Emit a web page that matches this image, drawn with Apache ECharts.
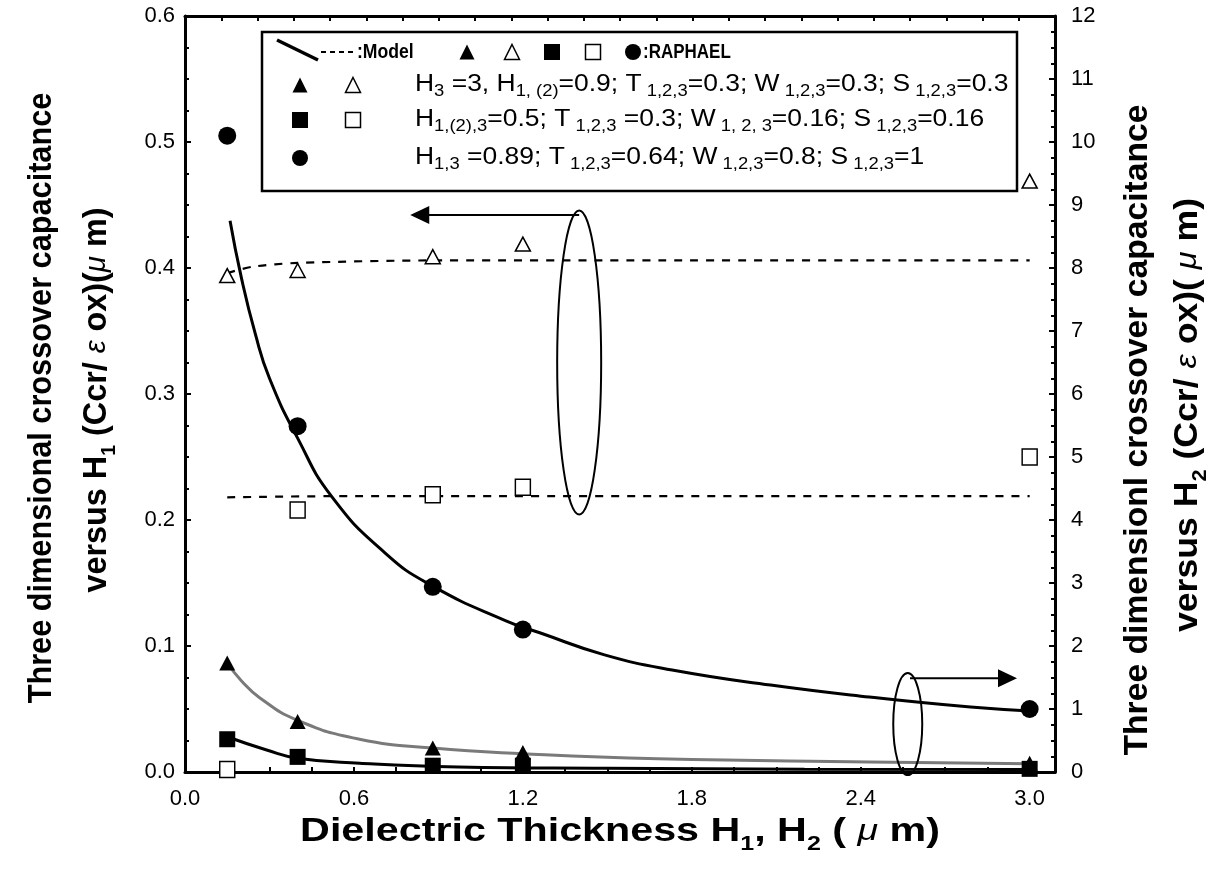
<!DOCTYPE html>
<html>
<head>
<meta charset="utf-8">
<script src="https://cdn.jsdelivr.net/npm/echarts@6/dist/echarts.min.js"></script>
<style>
html, body { margin: 0; padding: 0; background: #fff; }
#chart { width: 1215px; height: 886px; }
</style>
</head>
<body>
<div id="chart"></div>
<script>
/* 数据 */
var xPoints = [0.15, 0.4, 0.88, 1.2, 3.0]; // H1, H2 (um)

// RAPHAEL 点 - 左轴 (H1)
var openTriangle = [0.394, 0.398, 0.409, 0.419, 0.469];
var openSquare = [0.002, 0.208, 0.220, 0.226, 0.250];
// RAPHAEL 点 - 右轴 (H2)
var filledCircle = [10.1, 5.49, 2.94, 2.26, 1.0];
var filledTriangle = [1.73, 0.80, 0.38, 0.31, 0.14];
var filledSquare = [0.52, 0.24, 0.10, 0.10, 0.05];

// Model 曲线 [x, y]
var modelOpenTriangle = [[0.15, 0.396], [0.24, 0.401], [0.4, 0.404], [0.9, 0.406], [1.7, 0.406], [3.0, 0.406]];
var modelOpenSquare = [[0.15, 0.218], [0.6, 0.219], [3.0, 0.219]];
var modelCircle = [[0.16, 8.75], [0.2, 7.85], [0.25, 6.95], [0.3, 6.25], [0.4, 5.3], [0.52, 4.38], [0.71, 3.48],
    [0.88, 2.95], [1.14, 2.4], [1.26, 2.21], [1.49, 1.86], [1.73, 1.62], [2.08, 1.38], [2.43, 1.19], [2.79, 1.03], [3.0, 0.97]];
var modelTriangle = [[0.15, 1.73], [0.2, 1.45], [0.265, 1.18], [0.4, 0.82], [0.62, 0.52], [0.88, 0.38], [1.2, 0.29],
    [1.68, 0.21], [2.43, 0.16], [3.0, 0.13]];
var modelSquare = [[0.15, 0.56], [0.29, 0.35], [0.4, 0.22], [0.62, 0.14], [0.97, 0.08], [1.5, 0.06], [2.2, 0.045], [3.0, 0.04]];

// 刻度标签
var xLabelValues = [0.0, 0.6, 1.2, 1.8, 2.4, 3.0];

var SANS = '"Liberation Sans", Arial, Helvetica, sans-serif';

function zip (xs, ys) {
    return xs.map(function (x, i) { return [x, ys[i]]; });
}

var myChart = echarts.init(document.getElementById('chart'), null, { renderer: 'canvas' });

var axisLineStyle = { color: '#000', width: 3 };

var option = {
    animation: false,
    backgroundColor: '#fff',
    grid: { left: 185, right: 160, top: 16, bottom: 114, containLabel: false },
    xAxis: [{
        type: 'value',
        position: 'bottom',
        min: 0,
        max: 3.09,
        interval: 0.15,
        axisLine: { show: true, lineStyle: axisLineStyle },
        axisTick: { show: true, inside: true, length: 5, lineStyle: { color: '#000', width: 2 } },
        splitLine: { show: false },
        axisLabel: {
            show: true,
            showMaxLabel: false,
            margin: 16,
            color: '#000',
            fontSize: 22,
            fontFamily: SANS,
            formatter: function (v) {
                for (var i = 0; i < xLabelValues.length; i++) {
                    if (Math.abs(v - xLabelValues[i]) < 1e-6) return xLabelValues[i].toFixed(1);
                }
                return '';
            }
        }
    }, {
        type: 'value',
        position: 'top',
        min: 0,
        max: 24,
        interval: 1,
        axisLine: { show: true, onZero: false, lineStyle: axisLineStyle },
        axisTick: { show: true, inside: true, length: 5, lineStyle: { color: '#000', width: 2 } },
        axisLabel: { show: false },
        splitLine: { show: false }
    }],
    yAxis: [{
        type: 'value',
        position: 'left',
        min: 0,
        max: 0.6,
        interval: 0.1,
        axisLine: { show: true, onZero: false, lineStyle: axisLineStyle },
        axisTick: { show: true, inside: true, length: 6, lineStyle: { color: '#000', width: 2 } },
        minorTick: { show: true, splitNumber: 4, length: 4, lineStyle: { color: '#000', width: 2 } },
        splitLine: { show: false },
        minorSplitLine: { show: false },
        axisLabel: {
            margin: 10,
            color: '#000',
            fontSize: 22,
            fontFamily: SANS,
            formatter: function (v) { return v.toFixed(1); }
        }
    }, {
        type: 'value',
        position: 'right',
        min: 0,
        max: 12,
        interval: 1,
        axisLine: { show: true, onZero: false, lineStyle: axisLineStyle },
        axisTick: { show: true, inside: true, length: 6, lineStyle: { color: '#000', width: 2 } },
        minorTick: { show: true, splitNumber: 4, length: 4, lineStyle: { color: '#000', width: 2 } },
        splitLine: { show: false },
        minorSplitLine: { show: false },
        axisLabel: {
            margin: 16,
            color: '#000',
            fontSize: 22,
            fontFamily: SANS
        }
    }],
    series: [
        // Model 虚线 (左轴)
        {
            type: 'line', xAxisIndex: 0, yAxisIndex: 0, data: modelOpenTriangle,
            symbol: 'none', smooth: 0.3,
            lineStyle: { color: '#000', width: 2.2, type: [8, 8] }, z: 2
        },
        {
            type: 'line', xAxisIndex: 0, yAxisIndex: 0, data: modelOpenSquare,
            symbol: 'none', smooth: 0.3,
            lineStyle: { color: '#000', width: 2.2, type: [8, 8] }, z: 2
        },
        // Model 实线 (右轴)
        {
            type: 'line', xAxisIndex: 0, yAxisIndex: 1, data: modelCircle,
            symbol: 'none', smooth: 0.5,
            lineStyle: { color: '#000', width: 3 }, z: 2
        },
        {
            type: 'line', xAxisIndex: 0, yAxisIndex: 1, data: modelTriangle,
            symbol: 'none', smooth: 0.5,
            lineStyle: { color: '#7a7a7a', width: 3 }, z: 2
        },
        {
            type: 'line', xAxisIndex: 0, yAxisIndex: 1, data: modelSquare,
            symbol: 'none', smooth: 0.5,
            lineStyle: { color: '#000', width: 3 }, z: 2
        },
        // RAPHAEL 点
        {
            type: 'scatter', xAxisIndex: 0, yAxisIndex: 0, data: zip(xPoints, openTriangle),
            symbol: 'triangle', symbolSize: [15, 14],
            itemStyle: { color: '#fff', borderColor: '#000', borderWidth: 1.5, opacity: 1 }, z: 4
        },
        {
            type: 'scatter', xAxisIndex: 0, yAxisIndex: 0, data: zip(xPoints, openSquare),
            symbol: 'rect', symbolSize: [15, 16],
            itemStyle: { color: '#fff', borderColor: '#000', borderWidth: 1.5, opacity: 1 }, z: 4
        },
        {
            type: 'scatter', xAxisIndex: 0, yAxisIndex: 1, data: zip(xPoints, filledCircle),
            symbol: 'circle', symbolSize: 18,
            itemStyle: { color: '#000', opacity: 1 }, z: 4
        },
        {
            type: 'scatter', xAxisIndex: 0, yAxisIndex: 1, data: zip(xPoints, filledTriangle),
            symbol: 'triangle', symbolSize: [16, 15],
            itemStyle: { color: '#000', opacity: 1 }, z: 4
        },
        {
            type: 'scatter', xAxisIndex: 0, yAxisIndex: 1, data: zip(xPoints, filledSquare),
            symbol: 'rect', symbolSize: 16,
            itemStyle: { color: '#000', opacity: 1 }, z: 4
        }
    ]
};

myChart.setOption(option);

/* 图形: 图例框, 轴标题, 椭圆箭头 */
function tri (cx, cy, s, filled) {
    return {
        type: 'polygon', z: 101,
        shape: { points: [[cx, cy - s / 2], [cx + s / 2, cy + s / 2], [cx - s / 2, cy + s / 2]] },
        style: { fill: filled ? '#000' : '#fff', stroke: '#000', lineWidth: filled ? 0 : 1.5 }
    };
}
function sq (cx, cy, s, filled) {
    return {
        type: 'rect', z: 101,
        shape: { x: cx - s / 2, y: cy - s / 2, width: s, height: s },
        style: { fill: filled ? '#000' : '#fff', stroke: '#000', lineWidth: filled ? 0 : 1.5 }
    };
}
function dot (cx, cy, r) {
    return { type: 'circle', z: 101, shape: { cx: cx, cy: cy, r: r }, style: { fill: '#000' } };
}
function txt (x, y, text, opts) {
    var style = {
        text: text,
        fill: '#000',
        fontSize: opts.fontSize || 22,
        fontWeight: opts.fontWeight || 'normal',
        fontFamily: SANS,
        lineHeight: opts.lineHeight || 30,
        align: opts.align || 'left',
        verticalAlign: 'middle',
        rich: opts.rich || {}
    };
    return {
        type: 'text', z: 101, x: x, y: y,
        rotation: opts.rotation || 0,
        scaleX: opts.scaleX || 1,
        style: style
    };
}

var subRich = {
    s: { fontSize: 16, lineHeight: 16, verticalAlign: 'bottom', fontFamily: SANS },
    g: { fontSize: 23, fontStyle: 'italic', fontFamily: SANS }
};
var titleRich = {
    s: { fontSize: 20, fontWeight: 'bold', lineHeight: 20, verticalAlign: 'bottom', fontFamily: SANS },
    g: { fontSize: 30, fontStyle: 'italic', fontWeight: 'normal', fontFamily: SANS, lineHeight: 44 }
};

var graphics = [];

// 图例框
graphics.push({
    type: 'rect', z: 100,
    shape: { x: 262, y: 32, width: 755, height: 159 },
    style: { fill: '#fff', stroke: '#000', lineWidth: 2.5 }
});
graphics.push({ type: 'line', z: 101, shape: { x1: 277, y1: 40, x2: 318, y2: 60 }, style: { stroke: '#000', lineWidth: 3.5 } });
graphics.push({ type: 'line', z: 101, shape: { x1: 321, y1: 52, x2: 356, y2: 52 }, style: { stroke: '#000', lineWidth: 2, lineDash: [5, 4] } });
graphics.push(txt(357, 52, ':Model', { fontSize: 20, fontWeight: 'bold', scaleX: 0.88 }));
graphics.push(tri(467, 52, 15, true));
graphics.push(tri(512, 52, 15, false));
graphics.push(sq(552, 52, 16, true));
graphics.push(sq(593, 52, 15, false));
graphics.push(dot(633, 52, 8));
graphics.push(txt(643, 52, ':RAPHAEL', { fontSize: 20, fontWeight: 'bold', scaleX: 0.85 }));

graphics.push(tri(300, 85, 15, true));
graphics.push(tri(353, 85, 15, false));
graphics.push(txt(415, 85, 'H{s|3} =3, H{s|1, (2)}=0.9; T{s| 1,2,3}=0.3; W{s| 1,2,3}=0.3; S{s| 1,2,3}=0.3', { fontSize: 23, rich: subRich, scaleX: 1.15 }));
graphics.push(sq(300, 120, 16, true));
graphics.push(sq(353, 120, 15, false));
graphics.push(txt(415, 120, 'H{s|1,(2),3}=0.5; T{s| 1,2,3} =0.3; W{s| 1, 2, 3}=0.16; S{s| 1,2,3}=0.16', { fontSize: 23, rich: subRich, scaleX: 1.15 }));
graphics.push(dot(300, 158, 8));
graphics.push(txt(415, 158, 'H{s|1,3} =0.89; T{s| 1,2,3}=0.64; W{s| 1,2,3}=0.8; S{s| 1,2,3}=1', { fontSize: 23, rich: subRich, scaleX: 1.15 }));

// 轴标题
graphics.push(txt(42, 398, 'Three dimensional crossover capacitance',
    { fontSize: 33, fontWeight: 'bold', align: 'center', rotation: Math.PI / 2, lineHeight: 44, scaleX: 0.93 }));
graphics.push(txt(97, 400, 'versus H{s|1} (Ccr/ {g|ε} ox)({g|μ} m)',
    { fontSize: 33, fontWeight: 'bold', align: 'center', rotation: Math.PI / 2, lineHeight: 44, rich: titleRich, scaleX: 0.98 }));
graphics.push(txt(1138, 430, 'Three dimensionl crossover capacitance',
    { fontSize: 33, fontWeight: 'bold', align: 'center', rotation: Math.PI / 2, lineHeight: 44, scaleX: 1.02 }));
graphics.push(txt(1188, 415, 'versus H{s|2} (Ccr/ {g|ε} ox)( {g|μ} m)',
    { fontSize: 33, fontWeight: 'bold', align: 'center', rotation: Math.PI / 2, lineHeight: 44, rich: titleRich, scaleX: 1.08 }));
graphics.push(txt(620, 832, 'Dielectric Thickness H{s|1}, H{s|2} ( {g|μ} m)',
    { fontSize: 33, fontWeight: 'bold', align: 'center', lineHeight: 44, rich: titleRich, scaleX: 1.25 }));

// 椭圆 + 箭头 (数据坐标定位)
var upperCenter = myChart.convertToPixel({ xAxisIndex: 0, yAxisIndex: 0 }, [1.4, 0.325]);
var upperArrowFrom = myChart.convertToPixel({ xAxisIndex: 0, yAxisIndex: 0 }, [1.4, 0.442]);
var upperArrowTo = myChart.convertToPixel({ xAxisIndex: 0, yAxisIndex: 0 }, [0.8, 0.442]);
var lowerCenter = myChart.convertToPixel({ xAxisIndex: 0, yAxisIndex: 1 }, [2.567, 0.76]);
var lowerArrowFrom = myChart.convertToPixel({ xAxisIndex: 0, yAxisIndex: 1 }, [2.575, 1.49]);
var lowerArrowTo = myChart.convertToPixel({ xAxisIndex: 0, yAxisIndex: 1 }, [2.955, 1.49]);

graphics.push({ type: 'ellipse', z: 90, shape: { cx: upperCenter[0], cy: upperCenter[1], rx: 22, ry: 152 },
    style: { fill: null, stroke: '#000', lineWidth: 2 } });
graphics.push({ type: 'line', z: 90, shape: { x1: upperArrowFrom[0], y1: upperArrowFrom[1], x2: upperArrowTo[0] + 15, y2: upperArrowTo[1] },
    style: { stroke: '#000', lineWidth: 2 } });
graphics.push({ type: 'polygon', z: 90, shape: { points: [[upperArrowTo[0], upperArrowTo[1]], [upperArrowTo[0] + 19, upperArrowTo[1] - 9], [upperArrowTo[0] + 19, upperArrowTo[1] + 9]] },
    style: { fill: '#000' } });

graphics.push({ type: 'ellipse', z: 90, shape: { cx: lowerCenter[0], cy: lowerCenter[1], rx: 14.5, ry: 51 },
    style: { fill: null, stroke: '#000', lineWidth: 2 } });
graphics.push({ type: 'line', z: 90, shape: { x1: lowerArrowFrom[0], y1: lowerArrowFrom[1], x2: lowerArrowTo[0] - 15, y2: lowerArrowTo[1] },
    style: { stroke: '#000', lineWidth: 2 } });
graphics.push({ type: 'polygon', z: 90, shape: { points: [[lowerArrowTo[0], lowerArrowTo[1]], [lowerArrowTo[0] - 19, lowerArrowTo[1] - 9], [lowerArrowTo[0] - 19, lowerArrowTo[1] + 9]] },
    style: { fill: '#000' } });

myChart.setOption({ graphic: graphics });
</script>
</body>
</html>
